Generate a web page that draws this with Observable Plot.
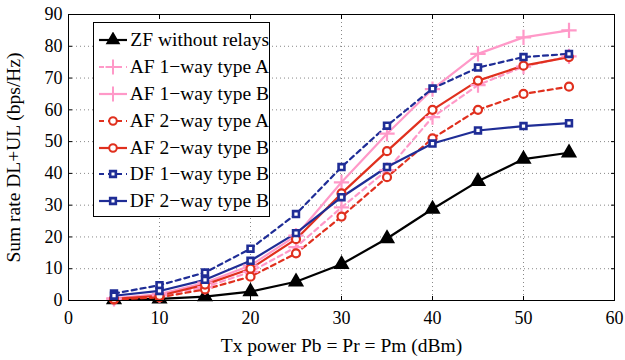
<!DOCTYPE html>
<html><head><meta charset="utf-8">
<script src="https://cdn.jsdelivr.net/npm/d3@7"></script>
<script src="https://cdn.jsdelivr.net/npm/@observablehq/plot@0.6"></script>
<style>
body{margin:0;background:#fff;}
#wrap{position:relative;width:625px;height:360px;font-family:"Liberation Serif","Times New Roman",serif;}
#legend{position:absolute;left:93px;top:22px;width:177px;height:195px;border:1.3px solid #000;background:#fff;box-sizing:border-box;padding-top:4px;}
.row{display:flex;align-items:center;height:26.8px;font-size:19.5px;white-space:nowrap;}
.row svg{margin-left:4px;margin-right:3px;}
</style></head>
<body><div id="wrap"></div>
<script>
const xPower = [5,10,15,20,25,30,35,40,45,50,55];
const zf     = [0.3,0.5,1.2,2.8,5.9,11.4,19.5,28.8,37.5,44.5,46.5];
const af1a   = [0.5,1.6,4.2,9.0,16.8,29.3,41.0,57.7,67.8,73.6,76.8];
const af1b   = [0.7,2.0,5.6,11.0,20.4,37.2,52.5,66.5,77.6,82.8,85.0];
const af2a   = [0.3,1.0,3.5,7.5,14.8,26.4,38.8,51.0,60.0,65.0,67.3];
const af2b   = [0.5,1.5,5.0,10.0,19.3,33.7,47.0,60.0,69.2,73.9,76.6];
const df1b   = [2.2,4.8,8.8,16.3,27.2,42.0,55.0,66.7,73.3,76.6,77.6];
const df2b   = [1.5,3.0,6.5,12.5,21.2,32.5,42.0,49.4,53.5,54.9,55.8];
const names  = ["ZF without relays","AF 1\u2212way type A","AF 1\u2212way type B","AF 2\u2212way type A","AF 2\u2212way type B","DF 1\u2212way type B","DF 2\u2212way type B"];
const xTicks = [0,10,20,30,40,50,60];
const yTicks = [0,10,20,30,40,50,60,70,80,90];

const styles = [
  {vals: zf,   color:"#000000", dash:null,  symbol:"triangle", fill:"#000000"},
  {vals: af1a, color:"#ff99c8", dash:"5,4", symbol:"plus",     fill:"none"},
  {vals: af1b, color:"#ff99c8", dash:null,  symbol:"plus",     fill:"none"},
  {vals: af2a, color:"#e0301e", dash:"5,4", symbol:"circle",   fill:"white"},
  {vals: af2b, color:"#e0301e", dash:null,  symbol:"circle",   fill:"white"},
  {vals: df1b, color:"#1f2d96", dash:"5,4", symbol:"square",   fill:"white"},
  {vals: df2b, color:"#1f2d96", dash:null,  symbol:"square",   fill:"white"}
];
const series = styles.map((s,i)=>({...s, name:names[i], data: xPower.map((x,j)=>({x, y:s.vals[j]}))}));

const marks = [
  Plot.gridX(xTicks,{stroke:"#888",strokeOpacity:1,strokeDasharray:"1,3"}),
  Plot.gridY(yTicks,{stroke:"#888",strokeOpacity:1,strokeDasharray:"1,3"}),
  Plot.axisX({ticks:xTicks,tickSize:-4,tickPadding:15,label:"Tx power Pb = Pr = Pm (dBm)",labelAnchor:"center",labelArrow:"none",labelOffset:51,fontSize:18}),
  Plot.axisX({anchor:"top",ticks:xTicks,tickSize:-4,tickFormat:()=>"",label:null}),
  Plot.axisY({ticks:yTicks,tickSize:-4,tickPadding:10,label:"Sum rate DL+UL (bps/Hz)",labelAnchor:"center",labelArrow:"none",labelOffset:62,fontSize:18}),
  Plot.axisY({anchor:"right",ticks:yTicks,tickSize:-4,tickFormat:()=>"",label:null}),
];
for (const s of series) {
  marks.push(Plot.line(s.data,{x:"x",y:"y",stroke:s.color,strokeWidth:2.2,strokeDasharray:s.dash}));
}
for (const s of series) {
  const r = s.symbol==="plus"?5:(s.symbol==="square"?3.3:(s.symbol==="triangle"?4.6:4));
  const sw = s.symbol==="square"?2.6:2.2;
  marks.push(Plot.dot(s.data,{x:"x",y:"y",symbol:()=>s.symbol,stroke:s.color,fill:s.fill,strokeWidth:sw,r}));
}
marks.push(Plot.frame({stroke:"#000",strokeWidth:1}));

const chart = Plot.plot({
  width:625,height:360,
  marginLeft:68,marginRight:11,marginTop:14,marginBottom:60,
  style:{fontFamily:"'Liberation Serif','Times New Roman',serif",fontSize:"18px",color:"#000",background:"#fff"},
  x:{domain:[0,60]},
  y:{domain:[0,90]},
  symbol:{type:"identity"},
  marks
});
const wrap = document.getElementById("wrap");
wrap.appendChild(chart);
d3.select(chart).selectAll('g[aria-label="x-axis label"], g[aria-label="y-axis label"]')
  .attr("font-size","19.5px");
d3.select(chart).selectAll('g[aria-label="x-axis label"] text, g[aria-label="y-axis label"] text')
  .attr("font-size","19.5px");

// legend
const leg = document.createElement("div");
leg.id="legend";
const sym = d3.scaleOrdinal().domain(["triangle","plus","circle","square"]).range([d3.symbolTriangle,d3.symbolPlus,d3.symbolCircle,d3.symbolSquare]);
for (const s of series) {
  const row = document.createElement("div"); row.className="row";
  const svg = d3.create("svg").attr("width",30).attr("height",16);
  svg.append("line").attr("x1",1).attr("x2",29).attr("y1",8).attr("y2",8)
     .attr("stroke",s.color).attr("stroke-width",2.2).attr("stroke-dasharray",s.dash);
  const size = s.symbol==="plus"?75:(s.symbol==="triangle"?55:(s.symbol==="square"?32:45));
  svg.append("path").attr("d",d3.symbol(sym(s.symbol),size)()).attr("transform","translate(15,8)")
     .attr("stroke",s.color).attr("stroke-width",s.symbol==="square"?2.6:2).attr("fill",s.symbol==="plus"?"none":s.fill);
  row.appendChild(svg.node());
  const t = document.createElement("span"); t.textContent=s.name; row.appendChild(t);
  leg.appendChild(row);
}
wrap.appendChild(leg);
</script></body></html>
